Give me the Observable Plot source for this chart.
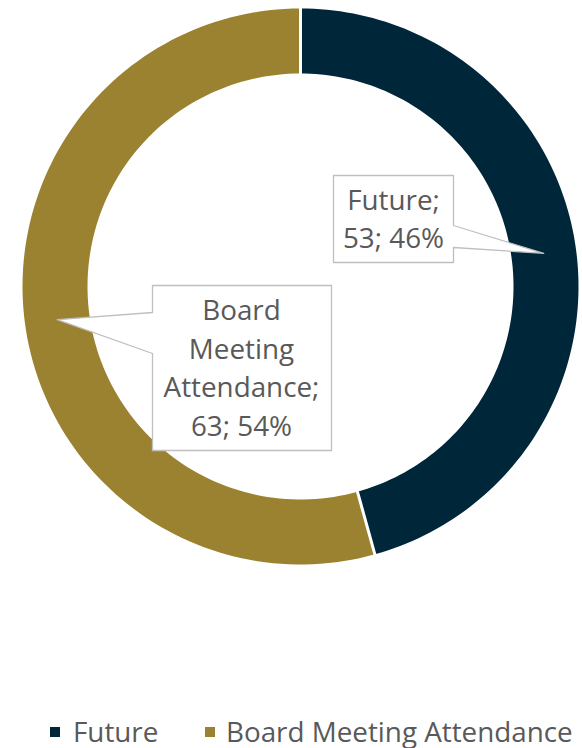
<!DOCTYPE html>
<html><head><meta charset="utf-8">
<script src="https://cdn.jsdelivr.net/npm/d3@7"></script>
<script src="https://cdn.jsdelivr.net/npm/@observablehq/plot@0.6"></script>
<style>
body{margin:0;background:#fff;font-family:"Open Sans",sans-serif;}
#legend{position:relative;width:582px;height:48px;}
.sw{position:absolute;width:10px;height:10px;top:27px;}
.lt{position:absolute;top:17.5px;font-size:27.8px;line-height:27.8px;color:#595959;white-space:nowrap;}
</style></head><body><div id="chart"></div><div id="legend"></div>
<script>
const categories = ["Future", "Board Meeting Attendance"];
const values = [53, 63];
const percentLabels = ["46%", "54%"];
const colors = ["#00263A", "#9B8231"];

// layout (pixels relative to ring centre)
const W = 582, H = 700, CX = 300, CY = 286, R_OUT = 278, R_IN = 213;
const callouts = [
  {box: [33, -111, 153, -24], side: "right", wedge: [-61, -39], text: [93, -70]},
  {box: [-148, -1, 31, 164], side: "left", wedge: [26, 67], text: [-59, 79]}
];

const arcs = d3.pie().sort(null).value(d => d)(values);
const pt = (r, a) => [r * Math.sin(a), -r * Math.cos(a)];

// ring segments as polygons
const ringPts = [];
arcs.forEach((a, i) => {
  const n = 120;
  for (let k = 0; k <= n; k++) {
    const t = a.startAngle + (a.endAngle - a.startAngle) * k / n;
    const [x, y] = pt(R_OUT, t); ringPts.push({cat: categories[i], x, y});
  }
  for (let k = n; k >= 0; k--) {
    const t = a.startAngle + (a.endAngle - a.startAngle) * k / n;
    const [x, y] = pt(R_IN, t); ringPts.push({cat: categories[i], x, y});
  }
});

// separators
const seps = arcs.map(a => {
  const [x1, y1] = pt(R_IN - 2, a.startAngle), [x2, y2] = pt(R_OUT + 2, a.startAngle);
  return {x1, y1, x2, y2};
});

// callout shapes
const calloutPts = [];
const labels = [];
arcs.forEach((a, i) => {
  const c = callouts[i];
  const mid = (a.startAngle + a.endAngle) / 2;
  const [tx, ty] = pt((R_OUT + R_IN) / 2, mid);
  const [x0, y0, x1, y1] = c.box, [w0, w1] = c.wedge;
  let poly;
  if (c.side === "right") poly = [[x0,y0],[x1,y0],[x1,w0],[tx,ty],[x1,w1],[x1,y1],[x0,y1]];
  else poly = [[x0,y0],[x1,y0],[x1,y1],[x0,y1],[x0,w1],[tx,ty],[x0,w0]];
  poly.forEach(([x, y]) => calloutPts.push({id: i, x, y}));
  labels.push({x: c.text[0], y: c.text[1],
    text: `${categories[i].split(" ").join("\n")};\n${values[i]}; ${percentLabels[i]}`});
});

const chart = Plot.plot({
  width: W, height: H,
  margin: 0,
  x: {domain: [-CX, W - CX], range: [0, W], axis: null},
  y: {domain: [-CY, H - CY], range: [0, H], axis: null},
  color: {domain: categories, range: colors},
  style: {fontFamily: "Open Sans", background: "white"},
  marks: [
    Plot.line(ringPts, {x: "x", y: "y", z: "cat", fill: "cat", stroke: "none", curve: "linear-closed"}),
    Plot.link(seps, {x1: "x1", y1: "y1", x2: "x2", y2: "y2", stroke: "white", strokeWidth: 3}),
    Plot.line(calloutPts, {x: "x", y: "y", z: "id", fill: "white", stroke: "#BFBFBF", strokeWidth: 1.3, curve: "linear-closed"}),
    Plot.text(labels, {x: "x", y: "y", text: "text", fill: "#595959", fontSize: 27.8, lineHeight: 1.4, textAnchor: "middle", lineAnchor: "middle"})
  ]
});
document.getElementById("chart").appendChild(chart);

// legend
const legend = document.getElementById("legend");
const legendPos = [[50, 73], [205, 226]];
categories.forEach((c, i) => {
  const s = document.createElement("div");
  s.className = "sw"; s.style.left = legendPos[i][0] + "px"; s.style.background = colors[i];
  const t = document.createElement("div");
  t.className = "lt"; t.style.left = legendPos[i][1] + "px"; t.textContent = c;
  legend.appendChild(s); legend.appendChild(t);
});
</script></body></html>
